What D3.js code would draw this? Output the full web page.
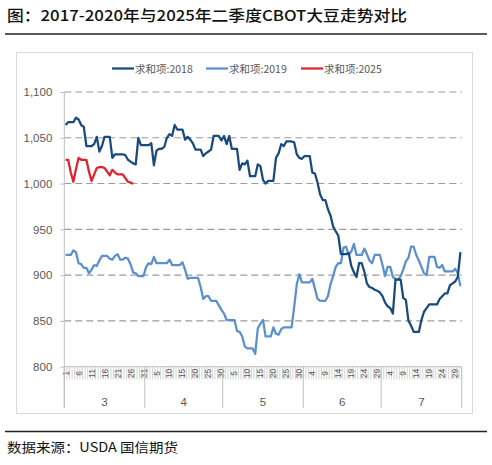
<!DOCTYPE html>
<html>
<head>
<meta charset="utf-8">
<script src="https://cdn.jsdelivr.net/npm/d3@7"></script>
<style>
  body { margin: 0; background: #fff; }
  text { font-family: "Liberation Sans", Arial, sans-serif; }
  .cjk { font-family: "Noto Sans CJK SC", "Liberation Sans", sans-serif; }
</style>
</head>
<body>
<svg id="chart" width="492" height="465"></svg>
<script>
// months on the axis and how many days each one has
var months = ['3', '4', '5', '6', '7'];
var month_days = [31, 30, 31, 30, 31];
var y_ticks = [800, 850, 900, 950, 1000, 1050, 1100];
var series_names = ['求和项:2018', '求和项:2019', '求和项:2025'];

var v2018 = [1064,1067,1067,1067,1072,1070,1064,1062,1041,1041,1041,1043,1051,1035,1041,1051,1051,1051,1028,1032,
  1032,1032,1032,1031,1026,1024,1022,1021,1050,1042,1042,1042,1042,1044,1020,1036,1038,1038,1040,1050,
  1054,1052,1064,1059,1059,1059,1048,1051,1048,1044,1037,1037,1037,1030,1033,1035,1037,1052,1052,1052,
  1047,1052,1043,1052,1038,1038,1038,1015,1022,1021,1025,1008,1008,1008,1021,1019,1004,1000,1003,1003,
  1003,1028,1033,1043,1041,1046,1046,1046,1045,1032,1028,1027,1030,1030,1030,1012,1011,1001,988,982,
  982,972,965,953,948,943,923,923,923,924,910,903,898,913,913,904,891,887,886,884,
  883,881,877,870,866,864,858,895,895,895,875,873,850,845,838,838,838,851,860,864,
  868,868,868,868,874,877,880,880,889,891,893,898,925];

var v2019 = [922,922,922,927,925,913,912,908,908,902,906,911,910,916,921,921,921,918,917,921,
  923,917,917,919,918,912,903,902,899,899,899,909,913,912,920,913,913,913,913,913,
  917,911,911,911,911,914,906,896,897,897,897,897,887,874,877,877,872,872,872,867,
  862,858,851,851,851,851,839,838,833,822,820,820,820,814,842,847,851,833,833,833,
  843,836,835,841,843,843,843,843,865,890,901,892,892,892,892,896,885,874,872,872,
  872,877,890,899,909,913,913,930,931,922,926,934,922,922,922,929,923,916,913,922,
  922,922,911,899,909,909,898,896,895,899,906,915,919,931,931,922,916,909,902,900,
  920,920,920,909,908,911,904,904,904,904,907,902,888];

var v2025 = [1026,1026,1012,1002,1016,1028,1026,1026,1026,1013,1003,1010,1017,1018,1018,1017,1013,1009,1015,1012,
  1010,1010,1010,1006,1002,1001,1000];

var colors = ['#194a7e', '#5b8fd0', '#e2222b'];

function createChart(){
  var svg = d3.select('#chart');

  /* Title and rules */
  svg.append('text').attr('class', 'cjk')
    .attr('x', 7).attr('y', 20.5)
    .attr('textLength', 400).attr('lengthAdjust', 'spacingAndGlyphs')
    .style('font-size', '15px').style('font-weight', 500).style('fill', '#111')
    .text('图：2017-2020年与2025年二季度CBOT大豆走势对比');
  svg.append('line').attr('x1', 5).attr('x2', 487).attr('y1', 34).attr('y2', 34)
    .style('stroke', '#222').style('stroke-width', 1.5);
  svg.append('line').attr('x1', 5).attr('x2', 487).attr('y1', 431.5).attr('y2', 431.5)
    .style('stroke', '#222').style('stroke-width', 1.5);
  svg.append('text').attr('class', 'cjk')
    .attr('x', 7).attr('y', 451.5)
    .attr('textLength', 171).attr('lengthAdjust', 'spacingAndGlyphs')
    .style('font-size', '13px').style('fill', '#111')
    .text('数据来源：USDA 国信期货');

  /* Chart frame */
  svg.append('rect').attr('x', 16.5).attr('y', 52.5).attr('width', 456).attr('height', 361)
    .style('fill', 'none').style('stroke', '#d9d9d9');

  var plot = { left: 64.3, right: 461.7, top: 92, bottom: 366.7 };

  /* Categories: one per day */
  var cats = [];
  months.forEach((m, mi) => {
    for (var d = 1; d <= month_days[mi]; d++) cats.push({ month: m, day: d, mi: mi });
  });

  var x = d3.scaleBand().domain(d3.range(cats.length)).range([plot.left, plot.right]).padding(0);
  var y = d3.scaleLinear().domain([800, 1100]).range([plot.bottom, plot.top]);
  var bw = x.bandwidth();

  /* Gridlines */
  svg.append('g').selectAll('line').data(y_ticks.filter(d => d > 800)).enter().append('line')
    .attr('x1', plot.left).attr('x2', plot.right)
    .attr('y1', d => y(d)).attr('y2', d => y(d))
    .style('stroke', '#9c9c9c').style('stroke-width', 1.1).style('stroke-dasharray', '7,4');

  /* Y axis */
  var yAxis = d3.axisLeft(y).tickValues(y_ticks).tickSize(4).tickPadding(8)
    .tickFormat(d3.format(','));
  var gy = svg.append('g').attr('transform', 'translate(' + plot.left + ',0)').call(yAxis);
  gy.select('.domain').remove();
  gy.selectAll('line').style('stroke', '#bfbfbf');
  gy.selectAll('text').style('font-size', '11.5px').style('fill', '#595959')
    .style('font-family', '"Liberation Sans", Arial, sans-serif');
  svg.append('line').attr('x1', plot.left).attr('x2', plot.left).attr('y1', plot.top).attr('y2', 408)
    .style('stroke', '#bfbfbf');
  svg.append('line').attr('x1', plot.left).attr('x2', plot.right).attr('y1', plot.bottom).attr('y2', plot.bottom)
    .style('stroke', '#bfbfbf');

  /* Category ticks and day labels */
  var gx = svg.append('g');
  gx.selectAll('line.tick').data(d3.range(cats.length + 1)).enter().append('line')
    .attr('x1', i => plot.left + i * bw).attr('x2', i => plot.left + i * bw)
    .attr('y1', plot.bottom).attr('y2', 379.5)
    .style('stroke', '#c8c8c8').style('stroke-width', 0.8);
  gx.selectAll('text.day').data(cats.map((c, i) => ({ c: c, i: i })).filter(d => d.i % 5 == 0)).enter().append('text')
    .attr('transform', d => 'translate(' + (x(d.i) + bw / 2) + ',373.5) rotate(-90)')
    .attr('text-anchor', 'middle').attr('dominant-baseline', 'central')
    .style('font-size', '8.5px').style('fill', '#595959')
    .text(d => d.c.day);

  /* Month separators and labels */
  var bounds = [0];
  month_days.forEach((n, k) => bounds.push(bounds[k] + n));
  gx.selectAll('line.month').data(bounds).enter().append('line')
    .attr('x1', b => plot.left + b * bw).attr('x2', b => plot.left + b * bw)
    .attr('y1', plot.bottom).attr('y2', 408)
    .style('stroke', '#bfbfbf');
  gx.selectAll('text.month').data(months).enter().append('text')
    .attr('x', (m, k) => plot.left + (bounds[k] + bounds[k + 1]) / 2 * bw)
    .attr('y', 405.5).attr('text-anchor', 'middle')
    .style('font-size', '11.5px').style('fill', '#595959')
    .text(m => m);

  /* Series lines */
  var line = d3.line().x((d, i) => x(i) + bw / 2).y(d => y(d));
  [v2019, v2018, v2025].forEach((s, k) => {
    var ci = [1, 0, 2][k];
    svg.append('path').datum(s)
      .attr('d', line)
      .style('fill', 'none').style('stroke', colors[ci]).style('stroke-width', 2.25)
      .style('stroke-linejoin', 'round');
  });

  /* Legend */
  var legend_x = [112, 206, 301];
  series_names.forEach((n, k) => {
    var g = svg.append('g').attr('transform', 'translate(' + legend_x[k] + ',68.5)');
    g.append('line').attr('x1', 0).attr('x2', 22).attr('y1', 0).attr('y2', 0)
      .style('stroke', colors[k]).style('stroke-width', 2.25);
    g.append('text').attr('class', 'cjk').attr('x', 23).attr('y', 0)
      .attr('dominant-baseline', 'central')
      .style('font-size', '10.5px').style('fill', '#595959')
      .text(n);
  });
}

createChart();
</script>
</body>
</html>
